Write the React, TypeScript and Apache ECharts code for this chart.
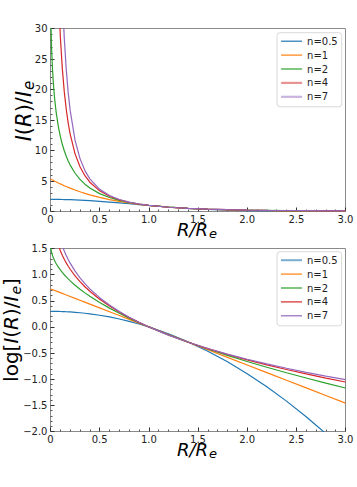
import React, { useEffect, useRef } from 'react';
import * as echarts from 'echarts';

// R / R_e sample positions
const R = [0, 0.005, 0.01, 0.02, 0.03, 0.04, 0.05, 0.06, 0.08, 0.1, 0.12, 0.14, 0.16, 0.18, 0.2, 0.25, 0.3, 0.35, 0.4, 0.5, 0.6, 0.7, 0.8, 0.9, 1.0, 1.2, 1.4, 1.6, 1.8, 2.0, 2.2, 2.4, 2.6, 2.8, 3.0];

// log10[I(R)/I_e] read for each Sersic index
const logN05 = [0.2981, 0.2981, 0.2981, 0.298, 0.2978, 0.2976, 0.2974, 0.297, 0.2962, 0.2951, 0.2938, 0.2923, 0.2905, 0.2884, 0.2862, 0.2795, 0.2713, 0.2616, 0.2504, 0.2236, 0.1908, 0.152, 0.1073, 0.0566, 0, -0.1312, -0.2862, -0.465, -0.6678, -0.8943, -1.1447, -1.419, -1.7171, -2.0391, -2.3849];
const logN1 = [0.7281, 0.7245, 0.7208, 0.7136, 0.7063, 0.699, 0.6917, 0.6844, 0.6699, 0.6553, 0.6407, 0.6262, 0.6116, 0.5971, 0.5825, 0.5461, 0.5097, 0.4733, 0.4369, 0.3641, 0.2912, 0.2184, 0.1456, 0.0728, 0, -0.1456, -0.2912, -0.4369, -0.5825, -0.7281, -0.8737, -1.0194, -1.165, -1.3106, -1.4562];
const logN2 = [1.5946, 1.4818, 1.4351, 1.369, 1.3184, 1.2756, 1.238, 1.204, 1.1435, 1.0903, 1.0422, 0.9979, 0.9567, 0.918, 0.8815, 0.7973, 0.7212, 0.6512, 0.5861, 0.467, 0.3594, 0.2605, 0.1683, 0.0818, 0, -0.1522, -0.2922, -0.4224, -0.5448, -0.6605, -0.7706, -0.8757, -0.9766, -1.0736, -1.1673];
const logN4 = [3.3307, 2.445, 2.2774, 2.0781, 1.9445, 1.8411, 1.7557, 1.6822, 1.5593, 1.4577, 1.3703, 1.2933, 1.2242, 1.1612, 1.1033, 0.9755, 0.8657, 0.7688, 0.6819, 0.5299, 0.3993, 0.2841, 0.1807, 0.0866, 0, -0.1553, -0.2923, -0.4153, -0.5272, -0.6302, -0.7257, -0.8149, -0.8987, -0.9778, -1.0527];
const logN7 = [5.936, 3.1513, 2.8614, 2.5414, 2.339, 2.1881, 2.0667, 1.9646, 1.798, 1.6639, 1.5512, 1.4536, 1.3672, 1.2897, 1.2193, 1.0665, 0.938, 0.8267, 0.7283, 0.5596, 0.4178, 0.2949, 0.1862, 0.0887, 0, -0.1566, -0.2923, -0.4122, -0.52, -0.6179, -0.7077, -0.7908, -0.8682, -0.9406, -1.0087];

const NAMES = ['n=0.5', 'n=1', 'n=2', 'n=4', 'n=7'];
const LOG_SERIES = [logN05, logN1, logN2, logN4, logN7];
const COLORS = ['#1f77b4', '#ff7f0e', '#2ca02c', '#d62728', '#9467bd'];

const FONT = 'DejaVu Sans';

const fmtX = (v: number) => (v === 0 ? '0' : v.toFixed(1));
const fmtTopY = (v: number) => String(Math.round(v));
const fmtBotY = (v: number) => (v < 0 ? '\u2212' + Math.abs(v).toFixed(1) : v.toFixed(1));

function richStyles(size: number) {
  const lh = Math.round(size * 0.9);
  return {
    i: { fontStyle: 'italic', fontSize: size, lineHeight: lh, fontFamily: FONT, fill: '#000', color: '#000' },
    r: { fontSize: size, lineHeight: lh, fontFamily: FONT, fill: '#000', color: '#000' },
    s: {
      fontStyle: 'italic',
      fontSize: Math.round(size * 0.7),
      lineHeight: Math.round(size * 0.6),
      fontFamily: FONT,
      fill: '#000',
      color: '#000',
      padding: [Math.round(size * 0.45), 0, 0, 1],
    },
  };
}

function makeAxisCommon() {
  return {
    type: 'value',
    axisLine: { show: false, onZero: false },
    axisTick: { show: true, inside: true, length: 4, lineStyle: { color: '#333', width: 1 } },
    minorTick: { show: true, splitNumber: 5, length: 2, lineStyle: { color: '#555', width: 1 } },
    splitLine: { show: false },
    minorSplitLine: { show: false },
  };
}

export default function App() {
  const ref = useRef<HTMLDivElement>(null);
  useEffect(() => {
    if (!ref.current) return;
    const chart = echarts.init(ref.current, undefined, { renderer: 'svg' });

    const grids = [
      { left: 50.5, top: 28.5, width: 295, height: 183 },
      { left: 50.5, top: 248.5, width: 295, height: 183 },
    ].map((g) => ({ ...g, show: true, borderColor: '#8a8a8a', borderWidth: 1, backgroundColor: 'transparent' }));

    const xAxes = [0, 1].map((gi) => ({
      ...makeAxisCommon(),
      gridIndex: gi,
      min: 0,
      max: 3,
      interval: 0.5,
      axisLabel: { fontSize: 10, lineHeight: 9, color: '#222', margin: 3, fontFamily: FONT, formatter: fmtX },
    }));

    const yAxes = [
      {
        ...makeAxisCommon(),
        gridIndex: 0,
        min: 0,
        max: 30,
        interval: 5,
        axisLabel: { fontSize: 10, color: '#222', margin: 3, fontFamily: FONT, formatter: fmtTopY },
      },
      {
        ...makeAxisCommon(),
        gridIndex: 1,
        min: -2,
        max: 1.5,
        interval: 0.5,
        axisLabel: { fontSize: 10, color: '#222', margin: 3, fontFamily: FONT, formatter: fmtBotY },
      },
    ];

    const series: any[] = [];
    NAMES.forEach((name, i) => {
      series.push({
        type: 'line',
        name,
        xAxisIndex: 0,
        yAxisIndex: 0,
        data: R.map((r, j) => [r, Math.pow(10, LOG_SERIES[i][j])]),
        showSymbol: false,
        symbol: 'none',
        clip: true,
        silent: true,
        lineStyle: { color: COLORS[i], width: 1.2 },
        itemStyle: { color: COLORS[i] },
      });
    });
    NAMES.forEach((name, i) => {
      series.push({
        type: 'line',
        name,
        xAxisIndex: 1,
        yAxisIndex: 1,
        data: R.map((r, j) => [r, LOG_SERIES[i][j]]),
        showSymbol: false,
        symbol: 'none',
        clip: true,
        silent: true,
        lineStyle: { color: COLORS[i], width: 1.2 },
        itemStyle: { color: COLORS[i] },
      });
    });

    const hiddenSymbol = { opacity: 0, borderWidth: 0 };

    const legendCommon = {
      orient: 'vertical',
      left: 277,
      padding: [3.5, 4, 5, 3],
      itemWidth: 21,
      itemHeight: 10,
      itemGap: 3.9,
      backgroundColor: '#ffffff',
      borderColor: '#d9d9d9',
      borderWidth: 1,
      borderRadius: 3,
      selectedMode: false,
      itemStyle: hiddenSymbol,
      textStyle: { fontSize: 10, color: '#222', fontFamily: FONT },
    };

    const topLegendData = NAMES.map((name, i) =>
      i >= 3
        ? { name, itemStyle: hiddenSymbol, lineStyle: { width: 2.2, opacity: 0.5 } }
        : { name, itemStyle: hiddenSymbol, lineStyle: { width: 1.2 } }
    );
    const botLegendData = NAMES.map((name, i) =>
      i === 0
        ? { name, itemStyle: hiddenSymbol, lineStyle: { width: 2, opacity: 0.6 } }
        : { name, itemStyle: hiddenSymbol, lineStyle: { width: 1.2 } }
    );

    const graphic = [
      {
        type: 'text',
        x: 24,
        y: 111,
        rotation: Math.PI / 2,
        style: {
          text: '{i|I}{r|(}{i|R}{r|)/}{i|I}{s|e}',
          rich: richStyles(21),
          align: 'center',
          verticalAlign: 'middle',
          fill: '#000',
        },
      },
      {
        type: 'text',
        x: 11,
        y: 330,
        rotation: Math.PI / 2,
        style: {
          text: '{r|log[}{i|I}{r|(}{i|R}{r|)/}{i|I}{s|e}{r|]}',
          rich: richStyles(20),
          align: 'center',
          verticalAlign: 'middle',
          fill: '#000',
        },
      },
      {
        type: 'text',
        x: 197,
        y: 229,
        style: {
          text: '{i|R/R}{s|e}',
          rich: richStyles(18),
          align: 'center',
          verticalAlign: 'middle',
          fill: '#000',
        },
      },
      {
        type: 'text',
        x: 197,
        y: 449.5,
        style: {
          text: '{i|R/R}{s|e}',
          rich: richStyles(18),
          align: 'center',
          verticalAlign: 'middle',
          fill: '#000',
        },
      },
    ];

    chart.setOption({
      animation: false,
      backgroundColor: '#ffffff',
      grid: grids,
      xAxis: xAxes,
      yAxis: yAxes,
      series,
      legend: [
        { ...legendCommon, top: 32.7, data: topLegendData },
        { ...legendCommon, top: 251.7, data: botLegendData },
      ],
      graphic,
    } as any);

    return () => chart.dispose();
  }, []);

  return <div ref={ref} style={{ position: 'absolute', left: 0, top: 0, width: 357, height: 487 }} />;
}
